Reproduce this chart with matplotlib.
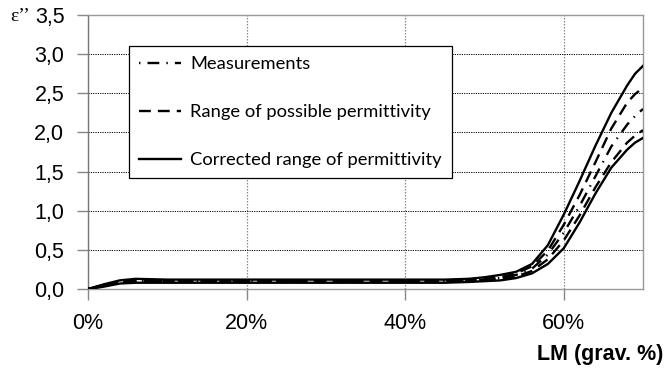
import matplotlib
matplotlib.use("Agg")
import matplotlib.pyplot as plt
from matplotlib.ticker import FuncFormatter

plt.rcParams["font.family"] = ["Liberation Sans", "DejaVu Sans"]

# LM content (grav. %)
lm = [0, 2, 4, 6, 10, 20, 30, 40, 45, 48, 50, 52, 54, 56, 58, 60, 62, 64, 66, 68, 69, 70]

# imaginary permittivity eps''
meas     = [0, 0.05, 0.09, 0.10, 0.10, 0.10, 0.10, 0.10, 0.10, 0.11, 0.12, 0.14, 0.18, 0.26, 0.44, 0.72, 1.06, 1.44, 1.82, 2.10, 2.21, 2.30]
rng_hi   = [0, 0.05, 0.10, 0.11, 0.11, 0.11, 0.11, 0.11, 0.11, 0.12, 0.13, 0.15, 0.20, 0.29, 0.49, 0.82, 1.20, 1.62, 2.05, 2.38, 2.49, 2.57]
rng_lo   = [0, 0.04, 0.08, 0.09, 0.09, 0.09, 0.09, 0.09, 0.09, 0.10, 0.11, 0.13, 0.16, 0.23, 0.38, 0.62, 0.94, 1.30, 1.62, 1.87, 1.96, 2.03]
corr_hi  = [0, 0.06, 0.11, 0.13, 0.12, 0.12, 0.12, 0.12, 0.12, 0.13, 0.15, 0.18, 0.22, 0.32, 0.56, 0.95, 1.38, 1.83, 2.25, 2.60, 2.75, 2.85]
corr_lo  = [0, 0.03, 0.07, 0.08, 0.08, 0.08, 0.08, 0.08, 0.08, 0.09, 0.10, 0.11, 0.14, 0.20, 0.32, 0.52, 0.85, 1.22, 1.55, 1.78, 1.87, 1.93]

fig = plt.figure(figsize=(6.68, 3.71), dpi=100)
ax = fig.add_axes([0.1317, 0.221, 0.8309, 0.7386])

lw = 1.7
ax.plot(lm, corr_hi, color="k", lw=lw, ls="-", label="Corrected range of permittivity", zorder=3)
ax.plot(lm, corr_lo, color="k", lw=lw, ls="-", zorder=3)
ax.plot(lm, rng_hi, color="k", lw=lw, ls=(0, (5, 3)), label="Range of possible permittivity", zorder=3)
ax.plot(lm, rng_lo, color="k", lw=lw, ls=(0, (5, 3)), zorder=3)
ax.plot(lm, meas, color="k", lw=lw, ls=(0, (0.6, 3, 5, 3)), label="Measurements", zorder=3)

ax.set_xlim(0, 70)
ax.set_ylim(0, 3.5)
ax.set_xticks([0, 20, 40, 60])
ax.set_yticks([0, 0.5, 1, 1.5, 2, 2.5, 3, 3.5])
ax.xaxis.set_major_formatter(FuncFormatter(lambda v, p: "%d%%" % v))
ax.yaxis.set_major_formatter(FuncFormatter(lambda v, p: ("%.1f" % v).replace(".", ",")))

ax.yaxis.grid(True, color="k", ls=(0, (1.2, 1.2)), lw=0.7)
ax.xaxis.grid(True, color="#888888", ls=(0, (1.2, 1.2)), lw=0.9)
ax.set_axisbelow(True)

for s in ax.spines.values():
    s.set_color("#999999")
    s.set_linewidth(1.0)
ax.spines["left"].set_color("#777777")

ax.tick_params(axis="both", direction="out", length=8, width=1, color="#888888",
               labelsize=15.5, pad=9)

fig.text(0.993, 0.045, "LM (grav. %)", ha="right", va="center",
         fontsize=15.5, fontweight="bold")
fig.text(0.015, 0.955, "\u03b5\u2019\u2019", ha="left", va="center",
         fontsize=14, family="Liberation Serif")

h, l = ax.get_legend_handles_labels()
leg = ax.legend(h[::-1], l[::-1], loc="upper left", bbox_to_anchor=(0.074, 0.887),
                borderaxespad=0, frameon=True, fancybox=False, edgecolor="k",
                framealpha=1, handlelength=2.3, labelspacing=1.75,
                prop={"family": "Lato", "size": 13.2}, borderpad=0.55, handletextpad=0.5)
leg.get_frame().set_linewidth(0.9)

fig.savefig("out.png", dpi=100)
